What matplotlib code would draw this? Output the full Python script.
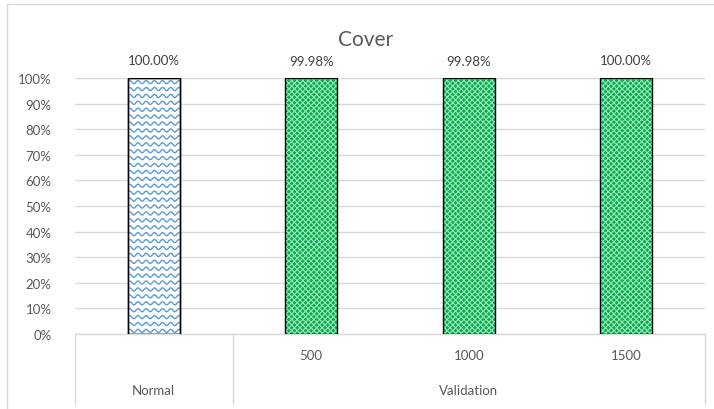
import numpy as np
import matplotlib
matplotlib.use("Agg")
import matplotlib.pyplot as plt
from matplotlib.patches import Rectangle
from matplotlib.transforms import blended_transform_factory

plt.rcParams["font.family"] = ["Lato", "DejaVu Sans"]
plt.rcParams["hatch.linewidth"] = 0.8

# données
groupes = ["Normal", "Validation"]
sous_cat = ["", "500", "1000", "1500"]
valeurs = [100.00, 99.98, 99.98, 100.00]   # en %
etiquettes = ["100.00%", "99.98%", "99.98%", "100.00%"]

gris = "#595959"
ligne = "#d9d9d9"

fig = plt.figure(figsize=(7.14, 4.10), dpi=100)
ax = fig.add_axes([75/714, 75/410, 630/714, 256/410])

x = np.arange(len(valeurs))
y = np.array(valeurs) / 100
barres = ax.bar(x, y, width=0.33, zorder=3, edgecolor="black", linewidth=1.0)

# barre "Normal" : fond blanc avec des vagues bleues
b0 = barres[0]
b0.set_facecolor("white")
bx, bw, bh = b0.get_x(), b0.get_width(), b0.get_height()
xx = np.linspace(bx, bx + bw, 200)
for y0 in np.arange(0.012, bh, 0.027):
    yy = y0 + 0.0062 * np.sin(2 * np.pi * (xx - bx) / 0.052)
    l, = ax.plot(xx, yy, color="#5b9bd5", lw=1.0, zorder=3.5)
    l.set_clip_path(b0)
ax.add_patch(Rectangle((bx, 0), bw, bh, fill=False, edgecolor="black", lw=1.0, zorder=4))

# barres "Validation" : vert avec motif pointillé
for b in barres[1:]:
    b.set_facecolor("#00b050")
    b.set_hatch("xxxxxx")
    b._hatch_color = matplotlib.colors.to_rgba("#9fe3b8")

# valeurs au-dessus des barres
for xi, yi, t in zip(x, y, etiquettes):
    ax.text(xi, yi + 0.045, t, ha="center", va="bottom", fontsize=9.5, color="#404040")

ax.set_xlim(-0.5, 3.5)
ax.set_ylim(0, 1)
ax.set_yticks(np.linspace(0, 1, 11))
ax.set_yticklabels([f"{int(v)}%" for v in np.linspace(0, 100, 11)])
ax.tick_params(axis="y", length=0, labelsize=9.5, labelcolor=gris, pad=17)
ax.grid(axis="y", color=ligne, lw=1, zorder=0)
ax.set_xticks([])
for s in ax.spines.values():
    s.set_visible(False)

# axe des catégories sur deux niveaux
tr = blended_transform_factory(ax.transData, ax.transAxes)
bas = -70 / 256
ax.plot([-0.5, 3.5], [0, 0], transform=tr, color=ligne, lw=1, clip_on=False)
for xv in [-0.5, 0.5, 3.5]:
    ax.plot([xv, xv], [0, bas], transform=tr, color=ligne, lw=1, clip_on=False)
for xi, t in zip(x, sous_cat):
    ax.text(xi, -21 / 256, t, transform=tr, ha="center", va="center", fontsize=9.5, color=gris)
ax.text(0, -56 / 256, groupes[0], transform=tr, ha="center", va="center", fontsize=9.5, color=gris)
ax.text(2, -56 / 256, groupes[1], transform=tr, ha="center", va="center", fontsize=9.5, color=gris)

fig.text(366/714, 1 - 40/410, "Cover", ha="center", va="center", fontsize=15, color=gris)

# cadre du graphique
fig.add_artist(Rectangle((7/714, -0.1), 1.2, 1 - 5/410 + 0.1, transform=fig.transFigure,
                         fill=False, edgecolor=ligne, lw=1))

fig.savefig("out.png", dpi=100)
